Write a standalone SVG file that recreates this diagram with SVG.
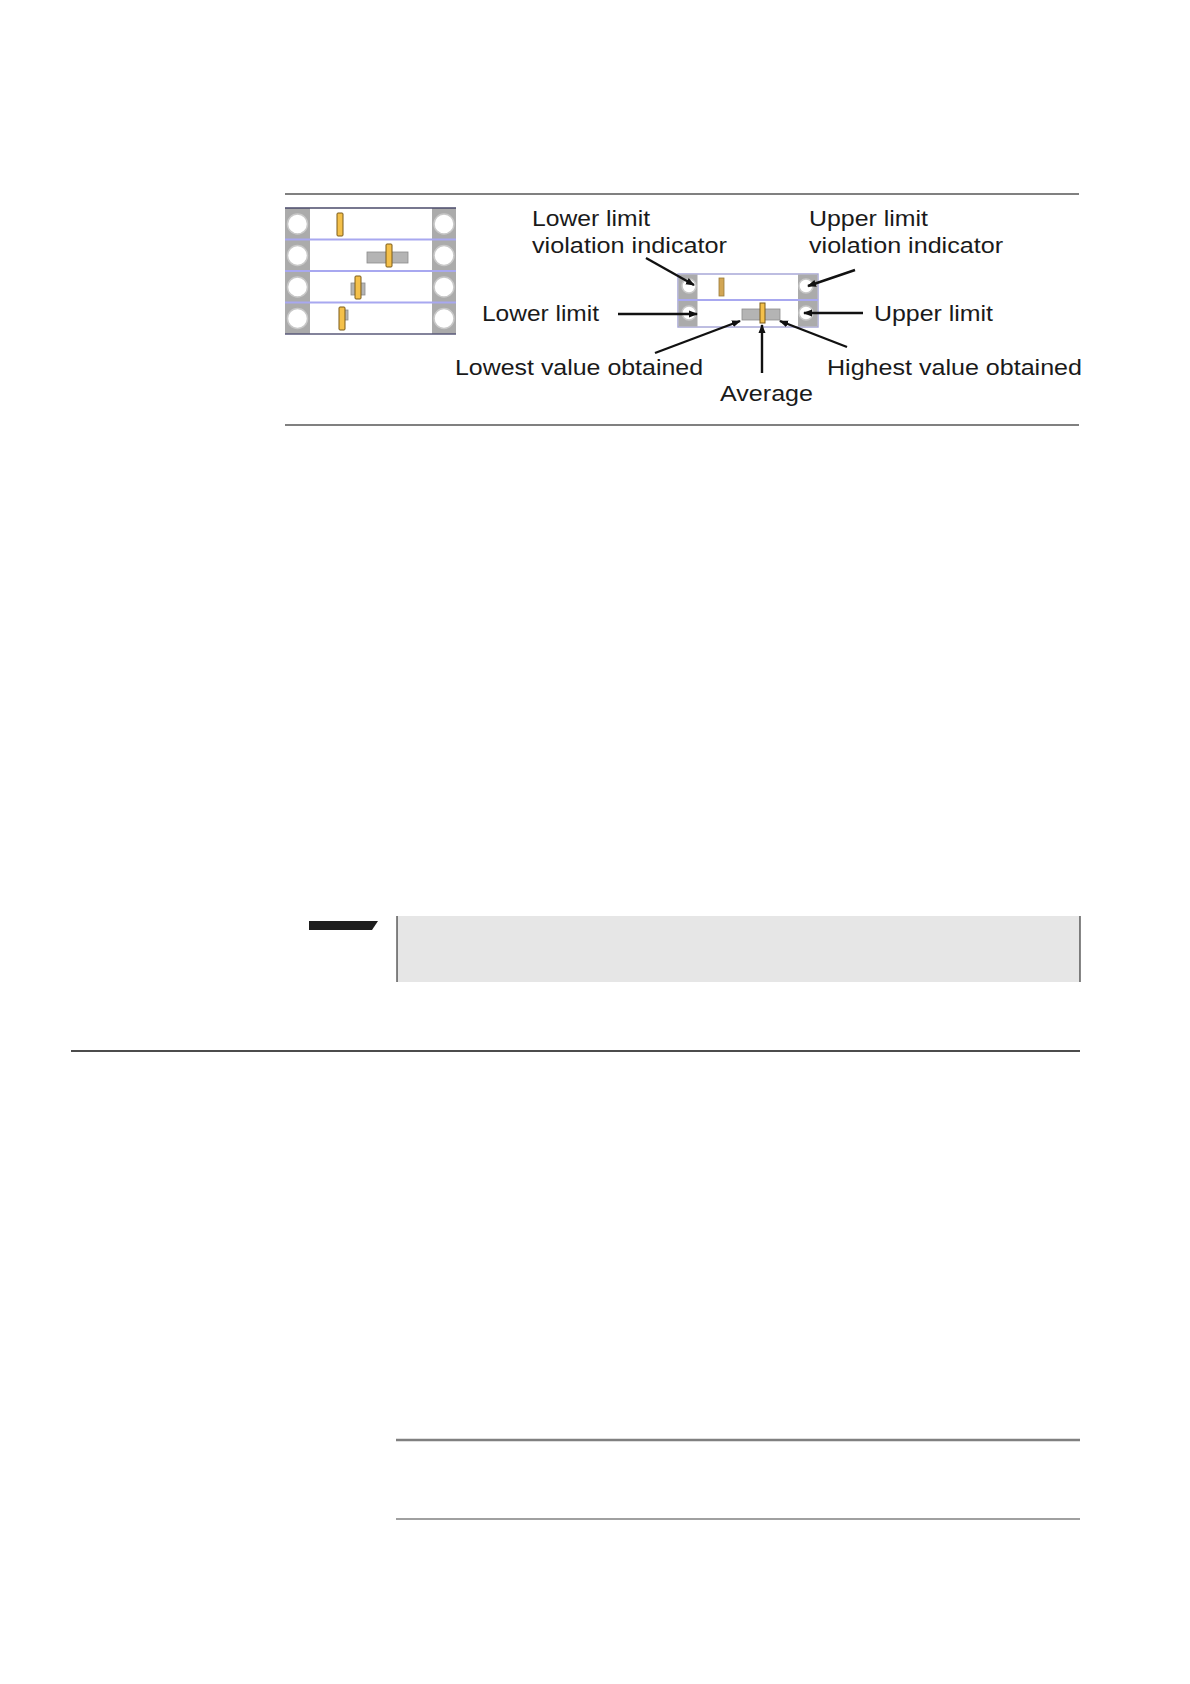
<svg xmlns="http://www.w3.org/2000/svg" width="1190" height="1684" viewBox="0 0 1190 1684">
<style>
.lbl{font-family:"Liberation Sans",Arial,sans-serif;font-size:22px;fill:#1a1a1a}
.rule{stroke:#808080;fill:none}
.conn{stroke:#111;stroke-width:2.4;fill:none;marker-end:url(#ah)}
.cell{fill:#ababab}
.hole{fill:#fff;stroke:#c8c8c8;stroke-width:1.5}
.bar{fill:#f4c04a;stroke:#7a5a18;stroke-width:1}
.tbar{fill:#d2a654;stroke:#9a7a3a;stroke-width:0.8}
.rng{fill:#b4b4b4;stroke:#8c8c8c;stroke-width:0.8}
.div{stroke:#a8a8f0;stroke-width:2}
</style>
<defs>
<marker id="ah" markerWidth="9" markerHeight="9" refX="8" refY="4.5" orient="auto" markerUnits="userSpaceOnUse">
<path d="M0,1 L9,4.5 L0,8 Z" fill="#111"/>
</marker>
</defs>
<rect width="1190" height="1684" fill="#fff"/>

<g id="page-rules">
<line class="rule" x1="285" y1="194" x2="1079" y2="194" stroke-width="2"/>
<line class="rule" x1="285" y1="425" x2="1079" y2="425" stroke-width="2"/>
<line x1="71" y1="1051" x2="1080" y2="1051" stroke="#111" stroke-width="1.5"/>
<line class="rule" x1="396" y1="1440" x2="1080" y2="1440" stroke-width="2.5"/>
<line class="rule" x1="396" y1="1519" x2="1080" y2="1519" stroke-width="1.5"/>
</g>

<g id="example-widget">
<rect x="285" y="208" width="171" height="126" fill="#fff"/>
<rect class="cell" x="285" y="208" width="25" height="126"/>
<rect class="cell" x="432" y="208" width="24" height="126"/>
<line x1="285" y1="208" x2="456" y2="208" stroke="#4a4a6a" stroke-width="1.5"/>
<line x1="285" y1="334" x2="456" y2="334" stroke="#5a5a7a" stroke-width="1.5"/>
<line class="div" x1="285" y1="239.5" x2="456" y2="239.5"/>
<line class="div" x1="285" y1="271" x2="456" y2="271"/>
<line class="div" x1="285" y1="302.5" x2="456" y2="302.5"/>
<circle class="hole" cx="297.5" cy="224" r="10"/>
<circle class="hole" cx="297.5" cy="255.5" r="10"/>
<circle class="hole" cx="297.5" cy="287" r="10"/>
<circle class="hole" cx="297.5" cy="318.5" r="10"/>
<circle class="hole" cx="444" cy="224" r="10"/>
<circle class="hole" cx="444" cy="255.5" r="10"/>
<circle class="hole" cx="444" cy="287" r="10"/>
<circle class="hole" cx="444" cy="318.5" r="10"/>
<rect class="bar" x="337" y="213" width="6" height="23" rx="1"/>
<rect class="rng" x="367" y="252" width="41" height="11"/>
<rect class="bar" x="386" y="244" width="6" height="23" rx="1"/>
<rect class="rng" x="351" y="283" width="14" height="12"/>
<rect class="bar" x="355" y="276" width="6" height="23" rx="1"/>
<rect class="rng" x="340" y="310" width="8" height="10"/>
<rect class="bar" x="339" y="307" width="6" height="23" rx="1"/>
</g>

<g id="legend-widget">
<rect x="678" y="274" width="140" height="53" fill="#fff" stroke="#a8a8d8" stroke-width="1.5"/>
<rect class="cell" x="678.5" y="274.5" width="19" height="52"/>
<rect class="cell" x="798" y="274.5" width="19.5" height="52"/>
<line class="div" x1="678" y1="300" x2="818" y2="300"/>
<circle class="hole" cx="689" cy="286" r="7"/>
<circle class="hole" cx="689" cy="313" r="7"/>
<circle class="hole" cx="806" cy="286" r="7"/>
<circle class="hole" cx="806" cy="313" r="7"/>
<rect class="tbar" x="719" y="278" width="5" height="18"/>
<rect class="rng" x="742" y="309" width="38" height="11"/>
<rect class="bar" x="760" y="303" width="5" height="20"/>
</g>

<g id="connectors">
<line class="conn" x1="646" y1="258" x2="694" y2="285"/>
<line class="conn" x1="855" y1="270" x2="808" y2="286"/>
<line class="conn" x1="618" y1="314" x2="697" y2="314"/>
<line class="conn" x1="863" y1="313" x2="804" y2="313"/>
<line class="conn" x1="655" y1="353" x2="740" y2="321"/>
<line class="conn" x1="762" y1="373" x2="762" y2="325"/>
<line class="conn" x1="847" y1="347" x2="780" y2="321"/>
</g>

<g id="labels">
<g id="lbl-lower-violation">
<text class="lbl" x="532" y="226" textLength="118" lengthAdjust="spacingAndGlyphs">Lower limit</text>
<text class="lbl" x="532" y="253" textLength="195" lengthAdjust="spacingAndGlyphs">violation indicator</text>
</g>
<g id="lbl-upper-violation">
<text class="lbl" x="809" y="226" textLength="119" lengthAdjust="spacingAndGlyphs">Upper limit</text>
<text class="lbl" x="809" y="253" textLength="194" lengthAdjust="spacingAndGlyphs">violation indicator</text>
</g>
<text id="lbl-lower-limit" class="lbl" x="482" y="321" textLength="117" lengthAdjust="spacingAndGlyphs">Lower limit</text>
<text id="lbl-upper-limit" class="lbl" x="874" y="321" textLength="119" lengthAdjust="spacingAndGlyphs">Upper limit</text>
<text id="lbl-lowest" class="lbl" x="455" y="375" textLength="248" lengthAdjust="spacingAndGlyphs">Lowest value obtained</text>
<text id="lbl-highest" class="lbl" x="827" y="375" textLength="255" lengthAdjust="spacingAndGlyphs">Highest value obtained</text>
<text id="lbl-average" class="lbl" x="720" y="401" textLength="93" lengthAdjust="spacingAndGlyphs">Average</text>
</g>

<g id="note-box">
<path d="M309,921 L378,921 L372,930 L309,930 Z" fill="#1e1e1e"/>
<rect x="397" y="916" width="683" height="66" fill="#e6e6e6"/>
<line x1="397" y1="916" x2="397" y2="982" stroke="#111" stroke-width="1"/>
<line x1="1080" y1="916" x2="1080" y2="982" stroke="#111" stroke-width="1"/>
</g>
</svg>
